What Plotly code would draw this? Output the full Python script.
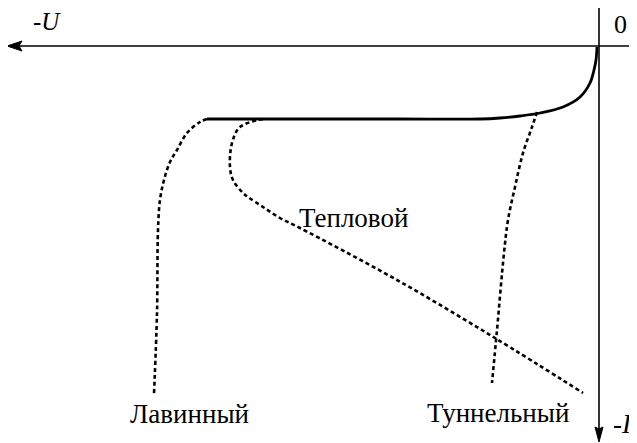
import plotly.graph_objects as go

# Schematic reverse-branch I-V characteristic (units: U and I in arbitrary schematic units)
# Common (shared) part of the reverse branch
main_u = [-2, -3, -5, -9, -19, -36, -59, -79, -99, -119, -200, -300, -392]
main_i = [-1, -14, -24, -37, -51, -61, -67, -70, -72, -73, -73, -73, -73]

# Avalanche breakdown ("Лавинный")
aval_u = [-392, -399, -412, -422, -429, -435, -439, -441, -442, -445]
aval_i = [-73, -76, -87, -104, -116, -134, -154, -184, -267, -348]

# Thermal breakdown ("Тепловой")
therm_u = [-336, -359, -367, -369, -366, -356, -351, -336, -319, -299, -202, -104, -16]
therm_i = [-73, -81, -97, -121, -134, -147, -151, -161, -172, -182, -234, -292, -347]

# Tunnel breakdown ("Туннельный")
tun_u = [-62, -67, -76, -84, -91, -95, -102, -107]
tun_i = [-66, -81, -107, -141, -174, -207, -284, -337]

labels = ["Лавинный", "Тепловой", "Туннельный"]
label_u = [-410, -246, -101]
label_i = [-368, -172, -367]

# Axis extents
U_MIN, U_MAX = -599, 38
I_MIN, I_MAX = -397, 46
U_TIP = -592      # arrow tip of -U axis
I_TIP = -396      # arrow tip of -I axis
I_TOP = 38

HEAD_LEN = 15
HEAD_HALF_H = 5
HEAD_HALF_V = 4

PAGE_MARGIN = 8   # default body margin of the html page

fig = go.Figure()

# Axes lines
fig.add_trace(go.Scatter(x=[U_TIP + HEAD_LEN - 3, U_MAX], y=[0, 0], mode="lines",
                         line=dict(color="black", width=1.6), hoverinfo="skip"))
fig.add_trace(go.Scatter(x=[0, 0], y=[I_TOP, I_TIP + HEAD_LEN - 3], mode="lines",
                         line=dict(color="black", width=1.6), hoverinfo="skip"))
# Arrowheads (computed from axis tips)
fig.add_trace(go.Scatter(
    x=[U_TIP, U_TIP + HEAD_LEN, U_TIP + HEAD_LEN - 3, U_TIP + HEAD_LEN, U_TIP],
    y=[0, HEAD_HALF_H, 0, -HEAD_HALF_H, 0],
    mode="lines", fill="toself", fillcolor="black",
    line=dict(color="black", width=1), hoverinfo="skip"))
fig.add_trace(go.Scatter(
    x=[0, HEAD_HALF_V, 0, -HEAD_HALF_V, 0],
    y=[I_TIP, I_TIP + HEAD_LEN, I_TIP + HEAD_LEN - 2, I_TIP + HEAD_LEN, I_TIP],
    mode="lines", fill="toself", fillcolor="black",
    line=dict(color="black", width=1), hoverinfo="skip"))

# Curves
fig.add_trace(go.Scatter(x=aval_u, y=aval_i, mode="lines", line_shape="spline",
                         line=dict(color="black", width=2.6, dash="4px,3px")))
fig.add_trace(go.Scatter(x=therm_u, y=therm_i, mode="lines", line_shape="spline",
                         line=dict(color="black", width=2.6, dash="4px,3px")))
fig.add_trace(go.Scatter(x=tun_u, y=tun_i, mode="lines", line_shape="spline",
                         line=dict(color="black", width=2.6, dash="4px,3px")))
fig.add_trace(go.Scatter(x=main_u, y=main_i, mode="lines", line_shape="spline",
                         line=dict(color="black", width=2.8)))

serif = "Liberation Serif, Times New Roman, serif"
for t, u, i in zip(labels, label_u, label_i):
    fig.add_annotation(x=u, y=i, text=t, showarrow=False, xanchor="center", yanchor="middle",
                       font=dict(family=serif, size=27, color="black"))

fig.add_annotation(x=13, y=22, text="0", showarrow=False, xanchor="left", yanchor="middle",
                   font=dict(family=serif, size=26, color="black"))
fig.add_annotation(x=-552, y=25, text="<i>-U</i>", showarrow=False, xanchor="center",
                   yanchor="middle", font=dict(family=serif, size=25, color="black"))
fig.add_annotation(x=12, y=-378, text="<i>-I</i>", showarrow=False, xanchor="left",
                   yanchor="middle", font=dict(family=serif, size=27, color="black"))

fig.update_layout(
    width=637 - PAGE_MARGIN, height=443 - PAGE_MARGIN, margin=dict(l=0, r=0, t=0, b=0),
    paper_bgcolor="white", plot_bgcolor="white", showlegend=False,
    xaxis=dict(range=[U_MIN + PAGE_MARGIN, U_MAX], visible=False, fixedrange=True),
    yaxis=dict(range=[I_MIN, I_MAX - PAGE_MARGIN], visible=False, fixedrange=True),
)

fig.write_html("out.html")
